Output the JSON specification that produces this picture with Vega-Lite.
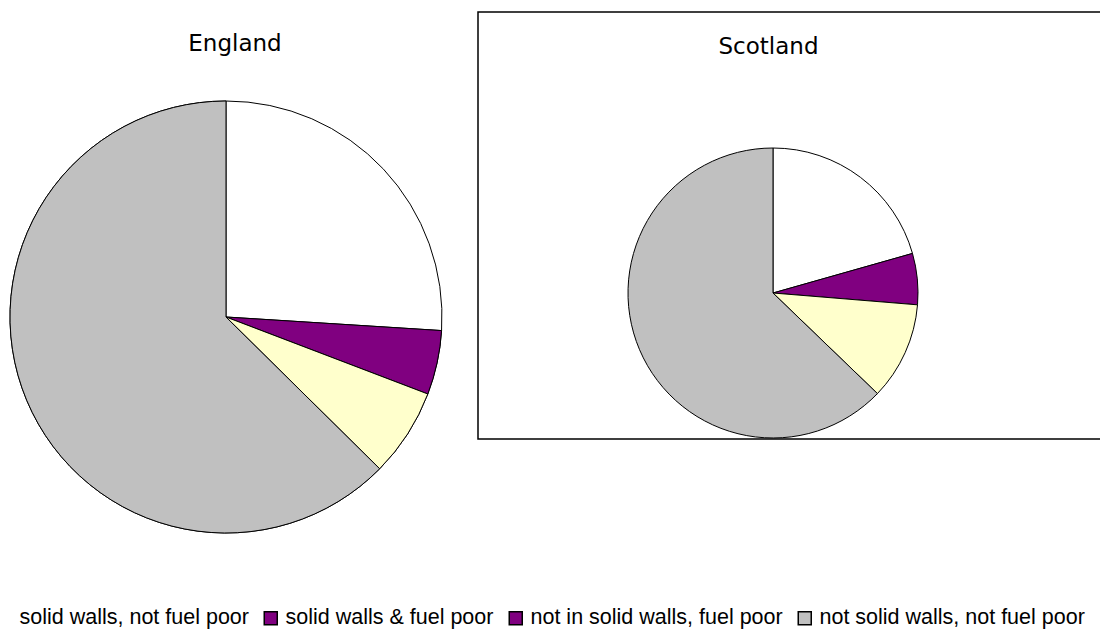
{
  "$schema": "https://vega.github.io/schema/vega-lite/v6.json",
  "padding": {"left": -6, "top": 11, "right": 0, "bottom": 0},
  "background": "white",
  "bounds": "flush",
  "spacing": 26,
  "config": {
    "view": {"stroke": null},
    "font": "Liberation Sans",
    "legend": {
      "orient": "none",
      "direction": "horizontal",
      "legendX": -6,
      "legendY": 595,
      "padding": 0,
      "labelFont": "Liberation Sans",
      "labelFontSize": 21.5,
      "labelColor": "black",
      "labelOffset": 4,
      "columnPadding": 11,
      "labelLimit": 277,
      "symbolType": "square",
      "symbolSize": 169,
      "symbolStrokeWidth": 1.5,
      "symbolOpacity": 1
    }
  },
  "data": {
    "values": [
      {"country": "England", "category": "solid walls, not fuel poor", "value": 26.0, "order": 1},
      {"country": "England", "category": "solid walls & fuel poor", "value": 4.8, "order": 2},
      {"country": "England", "category": "not in solid walls, fuel poor", "value": 6.6, "order": 3},
      {"country": "England", "category": "not solid walls, not fuel poor", "value": 62.6, "order": 4},
      {"country": "Scotland", "category": "solid walls, not fuel poor", "value": 20.6, "order": 1},
      {"country": "Scotland", "category": "solid walls & fuel poor", "value": 5.7, "order": 2},
      {"country": "Scotland", "category": "not in solid walls, fuel poor", "value": 10.9, "order": 3},
      {"country": "Scotland", "category": "not solid walls, not fuel poor", "value": 62.8, "order": 4}
    ]
  },
  "hconcat": [
    {
      "width": 452,
      "height": 610,
      "transform": [{"filter": "datum.country === 'England'"}],
      "title": {"text": "England", "font": "DejaVu Sans", "fontSize": 23, "fontWeight": "normal", "color": "black", "anchor": "middle", "baseline": "alphabetic", "offset": -62, "dx": 9},
      "encoding": {
        "theta": {"field": "value", "type": "quantitative", "stack": true},
        "order": {"field": "order", "type": "quantitative"}
      },
      "layer": [
        {
          "mark": {"type": "arc", "outerRadius": 216, "strokeWidth": 1},
          "encoding": {
            "color": {
              "field": "category",
              "type": "nominal",
              "title": null,
              "scale": {
                "domain": ["solid walls, not fuel poor", "solid walls & fuel poor", "not in solid walls, fuel poor", "not solid walls, not fuel poor"],
                "range": ["#ffffff", "#800080", "#800080", "#c0c0c0"]
              }
            },
            "stroke": {
              "field": "category",
              "type": "nominal",
              "title": null,
              "scale": {
                "domain": ["solid walls, not fuel poor", "solid walls & fuel poor", "not in solid walls, fuel poor", "not solid walls, not fuel poor"],
                "range": ["#ffffff", "#000000", "#000000", "#000000"]
              }
            }
          }
        },
        {
          "mark": {"type": "arc", "outerRadius": 216, "stroke": "black", "strokeWidth": 1},
          "encoding": {
            "fill": {
              "field": "category",
              "type": "nominal",
              "legend": null,
              "scale": {
                "range": ["#ffffcc", "#c0c0c0", "#800080", "#ffffff"]
              }
            }
          }
        }
      ]
    },
    {
      "width": 623,
      "height": 427,
      "view": {"stroke": "black", "strokeWidth": 1.5},
      "transform": [{"filter": "datum.country === 'Scotland'"}],
      "title": {"text": "Scotland", "font": "DejaVu Sans", "fontSize": 23, "fontWeight": "normal", "color": "black", "anchor": "middle", "baseline": "alphabetic", "offset": -65, "dx": -21},
      "mark": {"type": "arc", "outerRadius": 145, "stroke": "black", "strokeWidth": 1, "xOffset": -16.5, "yOffset": 67.5},
      "encoding": {
        "theta": {"field": "value", "type": "quantitative", "stack": true},
        "order": {"field": "order", "type": "quantitative"},
        "fill": {"field": "category", "type": "nominal", "legend": null}
      }
    }
  ]
}
